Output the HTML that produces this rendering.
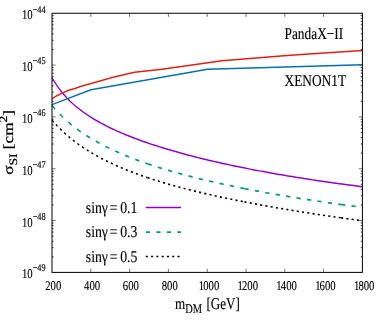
<!DOCTYPE html>
<html><head><meta charset="utf-8"><title>plot</title>
<style>html,body{margin:0;padding:0;background:#fff}svg{display:block}</style></head>
<body>
<svg width="382" height="327" viewBox="0 0 382 327">
<rect width="382" height="327" fill="#fff"/>
<path d="M90.80,272.4 v-3.6 M90.80,13.25 v3.6 M129.60,272.4 v-3.6 M129.60,13.25 v3.6 M168.40,272.4 v-3.6 M168.40,13.25 v3.6 M207.20,272.4 v-3.6 M207.20,13.25 v3.6 M246.00,272.4 v-3.6 M246.00,13.25 v3.6 M284.80,272.4 v-3.6 M284.80,13.25 v3.6 M323.60,272.4 v-3.6 M323.60,13.25 v3.6 M52.0,65.08 h3.6 M362.4,65.08 h-3.6 M52.0,116.91 h3.6 M362.4,116.91 h-3.6 M52.0,168.74 h3.6 M362.4,168.74 h-3.6 M52.0,220.57 h3.6 M362.4,220.57 h-3.6" stroke="#000" stroke-width="0.55" fill="none"/>
<path d="M52.0,49.48 h1.7 M362.4,49.48 h-1.7 M52.0,40.35 h1.7 M362.4,40.35 h-1.7 M52.0,33.88 h1.7 M362.4,33.88 h-1.7 M52.0,28.85 h1.7 M362.4,28.85 h-1.7 M52.0,24.75 h1.7 M362.4,24.75 h-1.7 M52.0,21.28 h1.7 M362.4,21.28 h-1.7 M52.0,18.27 h1.7 M362.4,18.27 h-1.7 M52.0,15.62 h1.7 M362.4,15.62 h-1.7 M52.0,101.31 h1.7 M362.4,101.31 h-1.7 M52.0,92.18 h1.7 M362.4,92.18 h-1.7 M52.0,85.71 h1.7 M362.4,85.71 h-1.7 M52.0,80.68 h1.7 M362.4,80.68 h-1.7 M52.0,76.58 h1.7 M362.4,76.58 h-1.7 M52.0,73.11 h1.7 M362.4,73.11 h-1.7 M52.0,70.10 h1.7 M362.4,70.10 h-1.7 M52.0,67.45 h1.7 M362.4,67.45 h-1.7 M52.0,153.14 h1.7 M362.4,153.14 h-1.7 M52.0,144.01 h1.7 M362.4,144.01 h-1.7 M52.0,137.54 h1.7 M362.4,137.54 h-1.7 M52.0,132.51 h1.7 M362.4,132.51 h-1.7 M52.0,128.41 h1.7 M362.4,128.41 h-1.7 M52.0,124.94 h1.7 M362.4,124.94 h-1.7 M52.0,121.93 h1.7 M362.4,121.93 h-1.7 M52.0,119.28 h1.7 M362.4,119.28 h-1.7 M52.0,204.97 h1.7 M362.4,204.97 h-1.7 M52.0,195.84 h1.7 M362.4,195.84 h-1.7 M52.0,189.37 h1.7 M362.4,189.37 h-1.7 M52.0,184.34 h1.7 M362.4,184.34 h-1.7 M52.0,180.24 h1.7 M362.4,180.24 h-1.7 M52.0,176.77 h1.7 M362.4,176.77 h-1.7 M52.0,173.76 h1.7 M362.4,173.76 h-1.7 M52.0,171.11 h1.7 M362.4,171.11 h-1.7 M52.0,256.80 h1.7 M362.4,256.80 h-1.7 M52.0,247.67 h1.7 M362.4,247.67 h-1.7 M52.0,241.20 h1.7 M362.4,241.20 h-1.7 M52.0,236.17 h1.7 M362.4,236.17 h-1.7 M52.0,232.07 h1.7 M362.4,232.07 h-1.7 M52.0,228.60 h1.7 M362.4,228.60 h-1.7 M52.0,225.59 h1.7 M362.4,225.59 h-1.7 M52.0,222.94 h1.7 M362.4,222.94 h-1.7" stroke="#000" stroke-width="0.7" fill="none"/>
<g fill="none" stroke-width="1.5" stroke-linejoin="round" transform="scale(0.8,1)">
<path d="M65.00,77.61 L68.26,82.03 L71.52,86.00 L74.78,89.60 L78.04,92.89 L81.30,95.92 L84.56,98.71 L87.82,101.31 L91.08,103.74 L94.34,106.02 L97.61,108.16 L100.87,110.19 L104.13,112.12 L107.39,113.95 L110.65,115.70 L113.91,117.37 L117.17,118.97 L120.43,120.51 L123.69,121.99 L126.95,123.42 L130.21,124.80 L133.47,126.13 L136.73,127.43 L139.99,128.68 L143.25,129.89 L146.51,131.08 L149.77,132.23 L153.03,133.35 L156.29,134.44 L159.55,135.51 L162.82,136.55 L166.08,137.56 L169.34,138.56 L172.60,139.53 L175.86,140.48 L179.12,141.41 L182.38,142.33 L185.64,143.22 L188.90,144.10 L192.16,144.96 L195.42,145.81 L198.68,146.64 L201.94,147.46 L205.20,148.26 L208.46,149.05 L211.72,149.83 L214.98,150.59 L218.24,151.34 L221.50,152.08 L224.76,152.81 L228.03,153.53 L231.29,154.23 L234.55,154.93 L237.81,155.62 L241.07,156.29 L244.33,156.96 L247.59,157.62 L250.85,158.27 L254.11,158.91 L257.37,159.54 L260.63,160.16 L263.89,160.78 L267.15,161.38 L270.41,161.98 L273.67,162.57 L276.93,163.16 L280.19,163.73 L283.45,164.30 L286.71,164.87 L289.97,165.42 L293.24,165.97 L296.50,166.51 L299.76,167.05 L303.02,167.58 L306.28,168.10 L309.54,168.62 L312.80,169.13 L316.06,169.64 L319.32,170.14 L322.58,170.63 L325.84,171.12 L329.10,171.61 L332.36,172.09 L335.62,172.56 L338.88,173.03 L342.14,173.49 L345.40,173.95 L348.66,174.40 L351.92,174.85 L355.18,175.29 L358.45,175.73 L361.71,176.17 L364.97,176.60 L368.23,177.02 L371.49,177.44 L374.75,177.86 L378.01,178.27 L381.27,178.68 L384.53,179.08 L387.79,179.48 L391.05,179.88 L394.31,180.27 L397.57,180.66 L400.83,181.05 L404.09,181.43 L407.35,181.80 L410.61,182.18 L413.87,182.55 L417.13,182.91 L420.39,183.27 L423.66,183.63 L426.92,183.99 L430.18,184.34 L433.44,184.69 L436.70,185.03 L439.96,185.37 L443.22,185.71 L446.48,186.05 L449.74,186.38 L453.00,186.71" stroke="#9400D3"/>
<g stroke="#009E73" stroke-width="1.75" stroke-dasharray="5.25 7.9">
<path d="M65.00,105.37 L68.23,108.46 L71.46,111.36 L74.69,114.08 L77.92,116.65 L81.15,119.09 L84.38,121.40 L87.61,123.60 L90.84,125.71 L94.07,127.71 L97.30,129.64 L100.53,131.48 L103.76,133.26 L106.99,134.97 L110.22,136.61 L113.45,138.20 L116.68,139.74 L119.91,141.22 L123.14,142.66 L126.36,144.06 L129.59,145.41 L132.82,146.72 L136.05,148.00 L139.28,149.24 L142.51,150.45 L145.74,151.63 L148.97,152.78 L152.20,153.90 L155.43,154.99 L158.66,156.06 L161.89,157.10 L165.12,158.12 L168.35,159.12 L171.58,160.10 L174.81,161.05 L178.04,161.99 L181.27,162.91 L184.50,163.81"/>
<path d="M184.50,163.81 L187.77,164.70 L191.05,165.58 L194.32,166.43 L197.59,167.26 L200.87,168.08 L204.14,168.89 L207.42,169.68 L210.69,170.45 L213.96,171.22 L217.24,171.97 L220.51,172.71 L223.78,173.43 L227.06,174.15 L230.33,174.85 L233.60,175.54 L236.88,176.23 L240.15,176.90 L243.43,177.56 L246.70,178.22 L249.97,178.86 L253.25,179.49 L256.52,180.12 L259.79,180.74 L263.07,181.35 L266.34,181.95 L269.61,182.54 L272.89,183.12 L276.16,183.70 L279.44,184.27 L282.71,184.84 L285.98,185.39 L289.26,185.94 L292.53,186.49 L295.80,187.02 L299.08,187.55 L302.35,188.08 L305.62,188.60"/>
<path d="M305.62,188.60 L308.89,189.11 L312.15,189.61 L315.42,190.11 L318.68,190.61 L321.94,191.10 L325.21,191.58 L328.47,192.06 L331.73,192.53 L335.00,193.00 L338.26,193.47 L341.52,193.93 L344.79,194.38 L348.05,194.83 L351.31,195.28 L354.58,195.72 L357.84,196.16 L361.10,196.59 L364.37,197.02 L367.63,197.45 L370.90,197.87 L374.16,198.29 L377.42,198.70 L380.69,199.11 L383.95,199.52 L387.21,199.92 L390.48,200.32 L393.74,200.72 L397.00,201.11 L400.27,201.50 L403.53,201.89 L406.79,202.27 L410.06,202.65 L413.32,203.03 L416.58,203.41 L419.85,203.78 L423.11,204.14 L426.38,204.51"/>
<path d="M426.38,204.51 L430.18,204.93 L433.98,205.35 L437.79,205.77 L441.59,206.18 L445.39,206.58 L449.20,206.99 L453.00,207.39"/>
</g>
<g stroke="#000" stroke-width="1.6" stroke-dasharray="2.6 4.0">
<path d="M65.00,120.09 L68.23,123.04 L71.46,125.83 L74.69,128.48 L77.92,130.99 L81.15,133.38 L84.38,135.66 L87.61,137.84 L90.84,139.92 L94.07,141.92 L97.30,143.83 L100.53,145.67 L103.76,147.44 L106.99,149.14 L110.22,150.78 L113.45,152.36 L116.68,153.89 L119.91,155.37 L123.14,156.80 L126.36,158.18 L129.59,159.53 L132.82,160.83 L136.05,162.10 L139.28,163.33 L142.51,164.53 L145.74,165.69 L148.97,166.83 L152.20,167.93 L155.43,169.01 L158.66,170.06 L161.89,171.09 L165.12,172.09 L168.35,173.07 L171.58,174.03 L174.81,174.97 L178.04,175.89 L181.27,176.79 L184.50,177.67"/>
<path d="M184.50,177.67 L187.77,178.55 L191.05,179.40 L194.32,180.24 L197.59,181.05 L200.87,181.85 L204.14,182.64 L207.42,183.41 L210.69,184.17 L213.96,184.91 L217.24,185.64 L220.51,186.36 L223.78,187.07 L227.06,187.77 L230.33,188.46 L233.60,189.13 L236.88,189.80 L240.15,190.45 L243.43,191.10 L246.70,191.74 L249.97,192.36 L253.25,192.98 L256.52,193.59 L259.79,194.20 L263.07,194.79 L266.34,195.38 L269.61,195.96 L272.89,196.53 L276.16,197.09 L279.44,197.65 L282.71,198.20 L285.98,198.75 L289.26,199.29 L292.53,199.82 L295.80,200.35 L299.08,200.87 L302.35,201.38 L305.62,201.89"/>
<path d="M305.62,201.89 L308.89,202.40 L312.15,202.89 L315.42,203.39 L318.68,203.88 L321.94,204.36 L325.21,204.84 L328.47,205.31 L331.73,205.78 L335.00,206.25 L338.26,206.71 L341.52,207.16 L344.79,207.62 L348.05,208.06 L351.31,208.51 L354.58,208.95 L357.84,209.39 L361.10,209.82 L364.37,210.25 L367.63,210.68 L370.90,211.10 L374.16,211.52 L377.42,211.94 L380.69,212.35 L383.95,212.76 L387.21,213.17 L390.48,213.57 L393.74,213.97 L397.00,214.37 L400.27,214.77 L403.53,215.16 L406.79,215.55 L410.06,215.94 L413.32,216.32 L416.58,216.71 L419.85,217.09 L423.11,217.46 L426.38,217.84"/>
<path d="M426.38,217.84 L430.18,218.27 L433.98,218.70 L437.79,219.13 L441.59,219.56 L445.39,219.98 L449.20,220.40 L453.00,220.81"/>
</g>
<path d="M65.00,98.90 L71.00,95.70 L78.50,92.90 L84.88,90.50 L94.50,88.20 L102.50,86.10 L125.00,80.90 L140.00,77.40 L168.12,72.30 L202.50,69.20 L277.50,60.80 L355.00,55.70 L381.25,54.20 L453.00,50.40" stroke="#E51E10"/>
<path d="M65.00,104.60 L113.62,89.80 L259.50,69.30 L453.00,64.80" stroke="#0072B2"/>
<path d="M182.25,207.4 H226.25" stroke="#9400D3"/>
<path d="M182.25,232.1 H226.25" stroke="#009E73" stroke-width="1.75" stroke-dasharray="5.25 7.9"/>
<path d="M182.25,256.5 H226.25" stroke="#000" stroke-width="1.6" stroke-dasharray="2.6 4.0"/>
</g>
<rect x="52.0" y="13.25" width="310.4" height="259.15" fill="none" stroke="#000" stroke-width="1"/>
<g font-family="'Liberation Serif', serif" fill="#000" stroke="#000" stroke-width="0.15" text-rendering="geometricPrecision" opacity="0.999">
<text transform="translate(45.6,18.85) scale(0.8,1)" text-anchor="end" font-size="13.4">10<tspan font-size="10.3" dy="-6.2">−44</tspan></text>
<text transform="translate(45.6,70.60) scale(0.8,1)" text-anchor="end" font-size="13.4">10<tspan font-size="10.3" dy="-6.8">−45</tspan></text>
<text transform="translate(45.6,122.60) scale(0.8,1)" text-anchor="end" font-size="13.4">10<tspan font-size="10.3" dy="-6.8">−46</tspan></text>
<text transform="translate(45.6,174.60) scale(0.8,1)" text-anchor="end" font-size="13.4">10<tspan font-size="10.3" dy="-6.8">−47</tspan></text>
<text transform="translate(45.6,226.60) scale(0.8,1)" text-anchor="end" font-size="13.4">10<tspan font-size="10.3" dy="-6.8">−48</tspan></text>
<text transform="translate(45.6,277.75) scale(0.8,1)" text-anchor="end" font-size="13.4">10<tspan font-size="10.3" dy="-6.8">−49</tspan></text>
<text transform="translate(53.30,290) scale(0.8,1)" text-anchor="middle" font-size="13.4">200</text>
<text transform="translate(92.10,290) scale(0.8,1)" text-anchor="middle" font-size="13.4">400</text>
<text transform="translate(130.90,290) scale(0.8,1)" text-anchor="middle" font-size="13.4">600</text>
<text transform="translate(169.70,290) scale(0.8,1)" text-anchor="middle" font-size="13.4">800</text>
<text transform="translate(209.00,290) scale(0.8,1)" text-anchor="middle" font-size="13.4">1<tspan dx="-1.2">000</tspan></text>
<text transform="translate(247.80,290) scale(0.8,1)" text-anchor="middle" font-size="13.4">1<tspan dx="-1.2">200</tspan></text>
<text transform="translate(286.60,290) scale(0.8,1)" text-anchor="middle" font-size="13.4">1<tspan dx="-1.2">400</tspan></text>
<text transform="translate(325.40,290) scale(0.8,1)" text-anchor="middle" font-size="13.4">1<tspan dx="-1.2">600</tspan></text>
<text transform="translate(364.20,290) scale(0.8,1)" text-anchor="middle" font-size="13.4">1<tspan dx="-1.2">800</tspan></text>
<text transform="translate(207.5,308.8) scale(0.79,1)" text-anchor="middle" font-size="16.6">m<tspan font-size="13.2" dy="4.5">DM</tspan><tspan dy="-4.5" dx="1.4"> [GeV]</tspan></text>
<text transform="translate(13.3,142.4) rotate(-90) scale(1.03,0.855)" text-anchor="middle" font-size="16.6" stroke-width="0.3">σ<tspan font-size="13.2" dy="4.8">SI</tspan><tspan dy="-4.8"> [cm</tspan><tspan font-size="13.2" dy="-7.2">2</tspan><tspan dy="7.2">]</tspan></text>
<text transform="translate(284.5,38.9) scale(0.805,1)" font-size="16.6">PandaX−II</text>
<text transform="translate(284.5,85.7) scale(0.805,1)" font-size="16.6">XENON1T</text>
<text transform="translate(85.8,212.9) scale(0.828,1)" font-size="16.6">sinγ<tspan dx="-1.9"> =</tspan><tspan dx="-0.9"> 0.1</tspan></text>
<text transform="translate(85.8,237.3) scale(0.828,1)" font-size="16.6">sinγ<tspan dx="-1.9"> =</tspan><tspan dx="-0.9"> 0.3</tspan></text>
<text transform="translate(85.8,261.7) scale(0.828,1)" font-size="16.6">sinγ<tspan dx="-1.9"> =</tspan><tspan dx="-0.9"> 0.5</tspan></text>
</g>
</svg>
</body></html>
